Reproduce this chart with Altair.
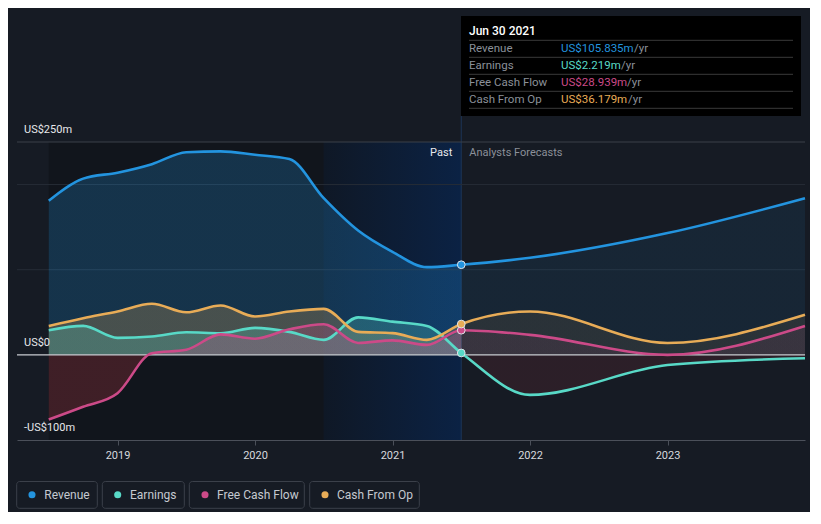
import altair as alt
import pandas as pd

# ---------------- data ----------------
series = ["Revenue", "Earnings", "Free Cash Flow", "Cash From Op"]
colors = ["#2394df", "#58d9c7", "#cc4a88", "#e8ac57"]

past_t = [2018.5, 2018.75, 2019.0, 2019.25, 2019.5, 2019.75, 2020.0,
          2020.25, 2020.5, 2020.75, 2021.0, 2021.25, 2021.5]
fc_t = [2021.5, 2022.0, 2023.0, 2024.0]

revenue_past = [181, 207, 214, 224, 238, 239, 235, 230, 184, 146, 121, 103, 105.835]
revenue_fc = [105.835, 114, 143, 184]
earnings_past = [29, 34, 20, 21.5, 26.5, 25.4, 31.7, 27, 17.6, 44, 39, 34, 2.219]
earnings_fc = [2.219, -47, -12, -4]
fcf_past = [-76, -61, -45, 2, 6, 24, 19, 30, 36, 14, 17, 11.7, 28.939]
fcf_fc = [28.939, 23.5, 0, 34]
cfo_past = [34, 43, 51, 60, 50, 58, 45, 51, 54, 27, 25.5, 17.6, 36.179]
cfo_fc = [36.179, 51, 14, 47]

tip_date = "Jun 30 2021"
tip_values = ["US$105.835m", "US$2.219m", "US$28.939m", "US$36.179m"]
y_ticks = [250, 0, -100]
y_tick_labels = ["US$250m", "US$0", "-US$100m"]
grid_vals = [200, 100]
x_ticks = [2019, 2020, 2021, 2022, 2023]
past_start, highlight_start, now_t = 2018.5, 2020.5, 2021.5

# ---------------- layout ----------------
W, H = 788, 298
X_DOM = [2018.269, 2024.0]
Y_DOM = [-100, 250]
FONT = "Roboto"
BG = "#161b24"
NEG = "#c83c46"

past_vals = [revenue_past, earnings_past, fcf_past, cfo_past]
fc_vals = [revenue_fc, earnings_fc, fcf_fc, cfo_fc]

def seg_df(ts, vals_list):
    rows = []
    for s, vals in zip(series, vals_list):
        for t, v in zip(ts, vals):
            rows.append({"series": s, "t": t, "v": v, "z": 0})
    return pd.DataFrame(rows)

df_line = seg_df(past_t + fc_t[1:], [p + f[1:] for p, f in zip(past_vals, fc_vals)])
df_dot = pd.DataFrame({"series": series, "t": [now_t] * 4,
                       "v": [pv[-1] for pv in past_vals]})

xs = alt.Scale(domain=X_DOM, nice=False, zero=False)
ys = alt.Scale(domain=Y_DOM, nice=False, zero=False)
cs = alt.Scale(domain=series, range=colors)
XAX = alt.Axis(values=x_ticks, format="d", grid=False, domainColor="#4b505a",
               tickColor="#4b505a", tickSize=5, labelColor="#d6d9de",
               labelFontSize=11, labelFont=FONT, labelPadding=4,
               title=None, labelFlush=False)

def X(f="t"):
    return alt.X(f"{f}:Q", scale=xs, axis=XAX)

def Y(f="v"):
    return alt.Y(f"{f}:Q", scale=ys, axis=None)

def rgba(hexc, a):
    h = hexc.lstrip("#")
    r, g, b = int(h[0:2], 16), int(h[2:4], 16), int(h[4:6], 16)
    return f"rgba({r},{g},{b},{a})"

def area_layer(ts, vals, color, a_pos, a_neg):
    vmax = max(max(vals), 0)
    vmin = min(min(vals), 0)
    off = vmax / (vmax - vmin) if vmax > vmin else 1
    stops = [alt.GradientStop(color=rgba(color, a_pos), offset=0),
             alt.GradientStop(color=rgba(color, a_pos), offset=off),
             alt.GradientStop(color=rgba(NEG, a_neg), offset=off),
             alt.GradientStop(color=rgba(NEG, a_neg), offset=1)]
    d = pd.DataFrame({"t": ts, "v": vals, "z": [0] * len(ts)})
    return alt.Chart(d).mark_area(
        interpolate="monotone",
        color=alt.Gradient(gradient="linear", stops=stops, x1=0, x2=0, y1=0, y2=1),
    ).encode(x=X(), y=Y(), y2="z:Q")

area_order = [0, 3, 1, 2]
areas = []
for i in area_order:
    areas.append(area_layer(past_t, past_vals[i], colors[i], 0.24, 0.25))
for i in area_order:
    areas.append(area_layer(fc_t, fc_vals[i], colors[i], 0.09, 0.12))

# background regions
dark = alt.Chart(pd.DataFrame({"a": [past_start], "b": [highlight_start]})).mark_rect(
    color="#11151c").encode(x=X("a"), x2="b:Q", y=alt.value(0), y2=alt.value(H))

hl = alt.Chart(pd.DataFrame({"a": [highlight_start], "b": [now_t]})).mark_rect(
    color=alt.Gradient(gradient="linear",
                       stops=[alt.GradientStop(color="#0f1826", offset=0),
                              alt.GradientStop(color="#0b2244", offset=1)],
                       x1=0, x2=1, y1=0, y2=0)).encode(
    x=X("a"), x2="b:Q", y=alt.value(0), y2=alt.value(H))

vline = alt.Chart(pd.DataFrame({"a": [now_t]})).mark_rule(
    color="#1c3556", strokeWidth=1).encode(x=X("a"), y=alt.value(-26), y2=alt.value(H))

# gridlines
top_line = alt.Chart(pd.DataFrame({"v": [Y_DOM[1]]})).mark_rule(
    color="#3b4049", strokeWidth=1).encode(y=Y(), x=alt.value(0), x2=alt.value(W))
grid = alt.Chart(pd.DataFrame({"v": grid_vals})).mark_rule(
    color="#262c36", strokeWidth=1).encode(y=Y(), x=alt.value(0), x2=alt.value(W))

zero_line = alt.Chart(pd.DataFrame({"v": [0]})).mark_rule(
    color="#c9ccd1", strokeWidth=1.2).encode(y=Y(), x=alt.value(0), x2=alt.value(W))

lines = alt.Chart(df_line).mark_line(interpolate="monotone", strokeWidth=2.6).encode(
    x=X(), y=Y(),
    color=alt.Color("series:N", scale=cs, legend=None), detail="series:N")

dots = alt.Chart(df_dot).mark_point(filled=True, size=60, stroke="#dfe3e8",
                                    strokeWidth=1, opacity=1).encode(
    x=X(), y=Y(), fill=alt.Fill("series:N", scale=cs, legend=None))

# y labels inside plot
ylab = alt.Chart(pd.DataFrame({"v": y_ticks, "lab": y_tick_labels})).mark_text(
    align="left", baseline="middle", dy=-12, fontSize=11, font=FONT,
    color="#e6e8eb").encode(y=Y(), x=alt.value(7), text="lab:N")

past_txt = alt.Chart(pd.DataFrame({"a": [now_t], "s": ["Past"]})).mark_text(
    align="right", baseline="middle", dx=-9, fontSize=11, font=FONT,
    color="#e8eaed").encode(x=X("a"), y=alt.value(11), text="s:N")
fc_txt = alt.Chart(pd.DataFrame({"a": [now_t], "s": ["Analysts Forecasts"]})).mark_text(
    align="left", baseline="middle", dx=8, fontSize=11, font=FONT,
    color="#8b9099").encode(x=X("a"), y=alt.value(11), text="s:N")

# tooltip box
tip_rect = alt.Chart(pd.DataFrame({"k": [0]})).mark_rect(color="#000000").encode(
    x=alt.value(444), x2=alt.value(784), y=alt.value(-126), y2=alt.value(-26))
tip_title = alt.Chart(pd.DataFrame({"s": [tip_date]})).mark_text(
    align="left", baseline="middle", fontSize=12, font=FONT, fontWeight=500,
    color="#ffffff").encode(x=alt.value(452), y=alt.value(-111), text="s:N")

row_y = [-93.5 + 17 * i for i in range(4)]
sep_y = [-101.7 + 17 * i for i in range(5)]
slash_x = [617, 604, 610, 611]
tip_df = pd.DataFrame({"lab": series, "val": tip_values, "py": row_y,
                       "sx": slash_x, "slash": ["/yr"] * 4})
tip_sep = alt.Chart(pd.DataFrame({"py": sep_y})).mark_rule(color="#3a3a3a").encode(
    y=alt.Y("py:Q", scale=None, axis=None), x=alt.value(452), x2=alt.value(776))
tip_lab = alt.Chart(tip_df).mark_text(align="left", baseline="middle", fontSize=11.5,
                                      font=FONT, color="#8b9099").encode(
    x=alt.value(452), y=alt.Y("py:Q", scale=None, axis=None), text="lab:N")
tip_val = alt.Chart(tip_df).mark_text(align="left", baseline="middle", fontSize=11.5,
                                      font=FONT).encode(
    x=alt.value(544), y=alt.Y("py:Q", scale=None, axis=None), text="val:N",
    color=alt.Color("lab:N", scale=cs, legend=None))
tip_slash = alt.Chart(tip_df).mark_text(align="left", baseline="middle", fontSize=11.5,
                                        font=FONT, color="#8b9099").encode(
    x=alt.X("sx:Q", scale=None, axis=None), y=alt.Y("py:Q", scale=None, axis=None),
    text="slash:N")

# custom legend
leg_df = pd.DataFrame({
    "lab": series,
    "bx0": [-0.3, 85.3, 172.3, 292.7],
    "bx1": [80.3, 167.3, 287.3, 402.3],
    "dx": [15, 100.7, 188, 308],
    "tx": [27.3, 113, 200, 320],
})
leg_box = alt.Chart(leg_df).mark_rect(fill=BG, stroke="#3b404a", strokeWidth=1,
                                      cornerRadius=3).encode(
    x=alt.X("bx0:Q", scale=None, axis=None), x2="bx1:Q",
    y=alt.value(339.5), y2=alt.value(366.3))
leg_dot = alt.Chart(leg_df).mark_point(filled=True, size=50, opacity=1).encode(
    x=alt.X("dx:Q", scale=None, axis=None), y=alt.value(352.8),
    fill=alt.Fill("lab:N", scale=cs, legend=None))
leg_txt = alt.Chart(leg_df).mark_text(align="left", baseline="middle", fontSize=12,
                                      font=FONT, color="#c5c9d0").encode(
    x=alt.X("tx:Q", scale=None, axis=None), y=alt.value(352.8), text="lab:N")

chart = alt.layer(
    dark, hl, vline, top_line, grid, *areas, zero_line, lines, dots,
    ylab, past_txt, fc_txt,
    tip_rect, tip_title, tip_sep, tip_lab, tip_val, tip_slash,
    leg_box, leg_dot, leg_txt,
).properties(
    width=W, height=H,
    autosize=alt.AutoSizeParams(type="none"),
    padding={"left": 9, "top": 134, "right": 5, "bottom": 72},
    background=BG,
).configure(font=FONT).configure_view(strokeWidth=0, stroke="transparent")

chart.save("out.html", embed_options={"renderer": "svg", "actions": False})
